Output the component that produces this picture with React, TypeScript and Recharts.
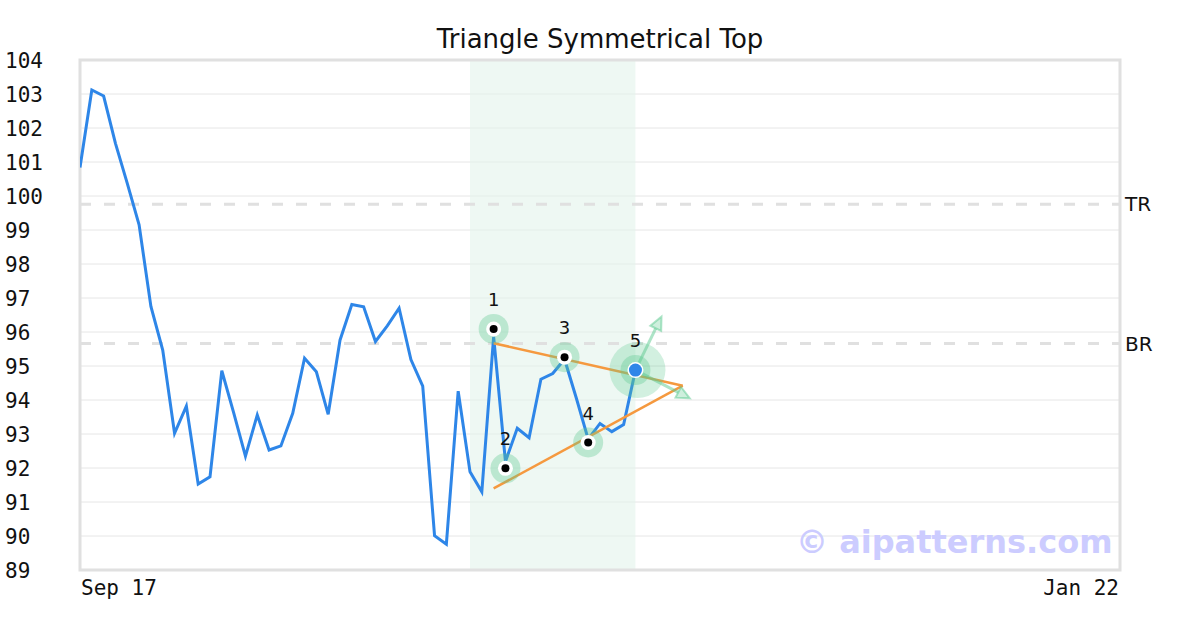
import React from 'react';
import {
  ComposedChart,
  Line,
  XAxis,
  YAxis,
  CartesianGrid,
  ReferenceArea,
  ReferenceLine,
  ReferenceDot,
} from 'recharts';

// ---- data ----
const prices = [
  100.84, 103.12, 102.94, 101.55, 100.37, 99.15, 96.75, 95.47, 93.02, 93.82,
  91.53, 91.74, 94.86, 93.63, 92.35, 93.56, 92.53, 92.65, 93.61, 95.23,
  94.83, 93.58, 95.76, 96.81, 96.74, 95.72, 96.18, 96.7, 95.19, 94.41,
  90.01, 89.76, 94.26, 91.89, 91.3, 95.86, 92.19, 93.17, 92.89, 94.61,
  94.78, 95.2, 94.05, 92.85, 93.31, 93.07, 93.28, 94.88,
];
const xDomain = [0, 88];
const xTickIdx = [0, 88];
const xTickLabels = ['Sep 17', 'Jan 22'];
const yTicks = [89, 90, 91, 92, 93, 94, 95, 96, 97, 98, 99, 100, 101, 102, 103, 104];

const patternStart = 33;
const patternEnd = 47;

const levelValues = [99.76, 95.66];
const levelLabels = ['TR', 'BR'];

const upperTrendX = [35, 51];
const upperTrendY = [95.67, 94.42];
const lowerTrendX = [35, 51];
const lowerTrendY = [91.4, 94.42];

const pivotX = [35, 36, 41, 43, 47];
const pivotY = [96.09, 91.99, 95.26, 92.75, 94.88];
const pivotLabels = ['1', '2', '3', '4', '5'];

const arrowFromX = 47;
const arrowFromY = 94.88;
const arrowToX = [49.2, 51.6];
const arrowToY = [96.45, 94.05];

const priceData = prices.map((v, i) => ({ i, v }));
const upperData = upperTrendX.map((x, k) => ({ i: x, t: upperTrendY[k] }));
const lowerData = lowerTrendX.map((x, k) => ({ i: x, t: lowerTrendY[k] }));

const MONO = '"DejaVu Sans Mono", monospace';
const SANS = '"DejaVu Sans", sans-serif';
const GREEN = '#5cc98f';

const YTick = (props: any) => {
  const { y, payload } = props;
  return (
    <text x={5} y={y} dy={7.5} textAnchor="start" fontFamily={MONO} fontSize={21} fill="#111">
      {payload.value}
    </text>
  );
};

const XTick = (props: any) => {
  const { x, y, payload } = props;
  const k = xTickIdx.indexOf(payload.value);
  const first = k === 0;
  return (
    <text
      x={first ? x + 1 : x - 1}
      y={y}
      dy={17}
      textAnchor={first ? 'start' : 'end'}
      fontFamily={MONO}
      fontSize={21}
      fill="#111"
    >
      {xTickLabels[k]}
    </text>
  );
};

const makePivot = (k: number) => (props: any) => {
  const { cx, cy } = props;
  const last = k === pivotX.length - 1;
  return (
    <g>
      {last && <circle cx={cx + 2} cy={cy} r={28} fill={GREEN} fillOpacity={0.28} />}
      <circle cx={cx} cy={cy} r={15} fill={GREEN} fillOpacity={0.35} />
      <circle cx={cx} cy={cy} r={last ? 8 : 7.5} fill="#ffffff" />
      <circle cx={cx} cy={cy} r={last ? 6.5 : 4} fill={last ? '#2e86e8' : '#000000'} />
      <text x={cx} y={cy - 23} textAnchor="middle" fontFamily={SANS} fontSize={18} fill="#111">
        {pivotLabels[k]}
      </text>
    </g>
  );
};

const ArrowShape = (props: any) => {
  const { x1, y1, x2, y2 } = props;
  const dx = x2 - x1;
  const dy = y2 - y1;
  const len = Math.sqrt(dx * dx + dy * dy) || 1;
  const ux = dx / len;
  const uy = dy / len;
  const hl = 13;
  const hw = 6;
  const bx = x2 - ux * hl;
  const by = y2 - uy * hl;
  const p1 = `${bx - uy * hw},${by + ux * hw}`;
  const p2 = `${bx + uy * hw},${by - ux * hw}`;
  return (
    <g>
      <line x1={x1} y1={y1} x2={bx} y2={by} stroke={GREEN} strokeOpacity={0.5} strokeWidth={3} />
      <polygon
        points={`${x2},${y2} ${p1} ${p2}`}
        fill={GREEN}
        fillOpacity={0.3}
        stroke={GREEN}
        strokeOpacity={0.5}
        strokeWidth={2}
      />
    </g>
  );
};

export default function App() {
  return (
    <div style={{ position: 'absolute', left: 0, top: 0, width: 1200, height: 630, background: '#fff' }}>
      <div
        style={{
          position: 'absolute',
          left: 0,
          top: 22,
          width: 1200,
          textAlign: 'center',
          fontFamily: SANS,
          fontSize: 26,
          color: '#111',
          lineHeight: '34px',
        }}
      >
        Triangle Symmetrical Top
      </div>
      <ComposedChart
        width={1200}
        height={630}
        data={priceData}
        margin={{ top: 60, right: 80, bottom: 30, left: 0 }}
      >
        <ReferenceArea
          x1={patternStart}
          x2={patternEnd}
          fill="#e3f3eb"
          fillOpacity={0.6}
          stroke="none"
          ifOverflow="extendDomain"
        />
        <CartesianGrid vertical={false} stroke="#e6e6e6" strokeWidth={1} />
        <XAxis
          dataKey="i"
          type="number"
          domain={xDomain}
          ticks={xTickIdx}
          allowDataOverflow
          axisLine={false}
          tickLine={false}
          height={30}
          tick={<XTick />}
          interval={0}
        />
        <YAxis
          type="number"
          domain={[89, 104]}
          ticks={yTicks}
          allowDataOverflow
          axisLine={false}
          tickLine={false}
          width={80}
          tick={<YTick />}
          interval={0}
        />
        <ReferenceArea
          x1={xDomain[0]}
          x2={xDomain[1]}
          y1={89}
          y2={104}
          fill="none"
          stroke="#e0e0e0"
          strokeWidth={3}
        />
        {levelValues.map((lv, k) => (
          <ReferenceLine
            key={levelLabels[k]}
            y={lv}
            stroke="#e0e0e0"
            strokeWidth={3}
            strokeDasharray="11 13"
            label={{ value: levelLabels[k], position: 'right', fontFamily: SANS, fontSize: 20, fill: '#111', offset: 5 }}
          />
        ))}
        <Line
          dataKey="v"
          stroke="#2e86e8"
          strokeWidth={3}
          dot={false}
          activeDot={false}
          isAnimationActive={false}
        />
        <Line
          data={upperData}
          dataKey="t"
          stroke="#f5993f"
          strokeWidth={2.5}
          dot={false}
          activeDot={false}
          isAnimationActive={false}
        />
        <Line
          data={lowerData}
          dataKey="t"
          stroke="#f5993f"
          strokeWidth={2.5}
          dot={false}
          activeDot={false}
          isAnimationActive={false}
        />
        {arrowToX.map((ax, k) => (
          <ReferenceLine
            key={'arrow' + k}
            segment={[
              { x: arrowFromX, y: arrowFromY },
              { x: ax, y: arrowToY[k] },
            ]}
            shape={<ArrowShape />}
          />
        ))}
        {pivotX.map((px, k) => (
          <ReferenceDot key={'p' + k} x={px} y={pivotY[k]} r={15} shape={makePivot(k)} />
        ))}
      </ComposedChart>
      <div
        style={{
          position: 'absolute',
          left: 796,
          top: 522,
          fontFamily: SANS,
          fontWeight: 'bold',
          fontSize: 32,
          color: '#ccccff',
          lineHeight: '40px',
          whiteSpace: 'nowrap',
        }}
      >
        © aipatterns.com
      </div>
    </div>
  );
}
